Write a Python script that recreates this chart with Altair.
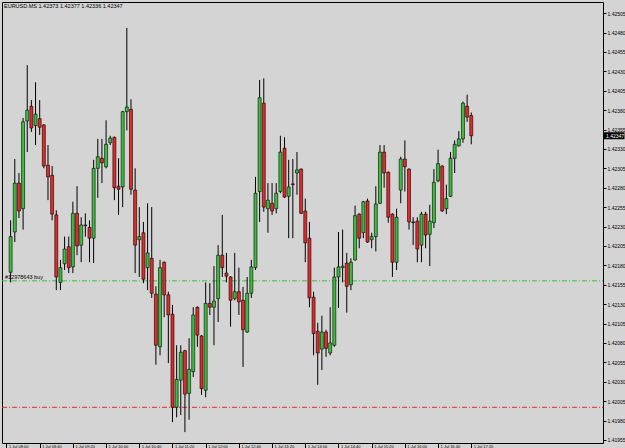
import altair as alt
import pandas as pd

symbol_title = "EURUSD.MS  1.42373 1.42377 1.42336 1.42347"

opens = [1.42171, 1.42223, 1.42286, 1.42253, 1.42366, 1.42385, 1.42360, 1.42369, 1.42361, 1.42309,
         1.42296, 1.42245, 1.42158, 1.42182, 1.42204, 1.42178, 1.42247, 1.42206, 1.42232, 1.42229,
         1.42215, 1.42305, 1.42318, 1.42307, 1.42338, 1.42345, 1.42282, 1.42281, 1.42378, 1.42381,
         1.42277, 1.42213, 1.42222, 1.42177, 1.42189, 1.42143, 1.42075, 1.42184, 1.42142, 1.42117,
         1.41997, 1.42032, 1.42070, 1.42015, 1.42043, 1.42126, 1.42089, 1.42019, 1.42131, 1.42126,
         1.42137, 1.42193, 1.42170, 1.42165, 1.42137, 1.42146, 1.42135, 1.42094, 1.42144, 1.42177,
         1.42275, 1.42389, 1.42253, 1.42260, 1.42253, 1.42275, 1.42331, 1.42269, 1.42285, 1.42299,
         1.42304, 1.42250, 1.42215, 1.42139, 1.42095, 1.42072, 1.42094, 1.42067, 1.42077, 1.42165,
         1.42177, 1.42183, 1.42155, 1.42187, 1.42246, 1.42222, 1.42263, 1.42213, 1.42217, 1.42260,
         1.42326, 1.42300, 1.42246, 1.42184, 1.42277, 1.42317, 1.42304, 1.42236, 1.42237, 1.42206,
         1.42246, 1.42220, 1.42235, 1.42289, 1.42308, 1.42253, 1.42269, 1.42318, 1.42334, 1.42343,
         1.42385, 1.42373]
highs = [1.42238, 1.42317, 1.42299, 1.42370, 1.42438, 1.42393, 1.42416, 1.42393, 1.42362, 1.42335,
         1.42308, 1.42251, 1.42187, 1.42217, 1.42217, 1.42262, 1.42282, 1.42242, 1.42247, 1.42238,
         1.42316, 1.42343, 1.42343, 1.42367, 1.42347, 1.42346, 1.42318, 1.42379, 1.42486, 1.42394,
         1.42305, 1.42255, 1.42236, 1.42260, 1.42255, 1.42153, 1.42187, 1.42185, 1.42146, 1.42129,
         1.42077, 1.42077, 1.42071, 1.42086, 1.42126, 1.42127, 1.42090, 1.42158, 1.42157, 1.42179,
         1.42206, 1.42245, 1.42196, 1.42166, 1.42196, 1.42177, 1.42152, 1.42165, 1.42187, 1.42294,
         1.42419, 1.42421, 1.42286, 1.42286, 1.42286, 1.42347, 1.42345, 1.42316, 1.42317, 1.42326,
         1.42305, 1.42266, 1.42236, 1.42146, 1.42106, 1.42115, 1.42097, 1.42126, 1.42177, 1.42223,
         1.42226, 1.42196, 1.42189, 1.42257, 1.42247, 1.42263, 1.42266, 1.42222, 1.42282, 1.42335,
         1.42335, 1.42301, 1.42247, 1.42253, 1.42320, 1.42341, 1.42305, 1.42242, 1.42242, 1.42249,
         1.42249, 1.42258, 1.42304, 1.42329, 1.42309, 1.42284, 1.42326, 1.42341, 1.42353, 1.42391,
         1.42400, 1.42377]
lows = [1.42158, 1.42210, 1.42241, 1.42226, 1.42326, 1.42352, 1.42335, 1.42348, 1.42305, 1.42264,
        1.42238, 1.42148, 1.42148, 1.42174, 1.42170, 1.42170, 1.42193, 1.42184, 1.42217, 1.42184,
        1.42183, 1.42267, 1.42286, 1.42305, 1.42335, 1.42264, 1.42245, 1.42255, 1.42354, 1.42271,
        1.42170, 1.42165, 1.42157, 1.42148, 1.42138, 1.42052, 1.42064, 1.42113, 1.42054, 1.41978,
        1.41984, 1.41987, 1.41965, 1.41981, 1.42036, 1.42075, 1.42013, 1.42010, 1.42116, 1.42077,
        1.42107, 1.42165, 1.42158, 1.42101, 1.42135, 1.42116, 1.42049, 1.42093, 1.42138, 1.42174,
        1.42236, 1.42249, 1.42222, 1.42245, 1.42247, 1.42273, 1.42267, 1.42215, 1.42215, 1.42271,
        1.42246, 1.42184, 1.42126, 1.42064, 1.42026, 1.42045, 1.42062, 1.42064, 1.42075, 1.42125,
        1.42158, 1.42119, 1.42148, 1.42186, 1.42202, 1.42215, 1.42209, 1.42202, 1.42198, 1.42259,
        1.42280, 1.42235, 1.42165, 1.42174, 1.42260, 1.42275, 1.42226, 1.42206, 1.42184, 1.42184,
        1.42202, 1.42179, 1.42228, 1.42287, 1.42249, 1.42246, 1.42268, 1.42299, 1.42333, 1.42338,
        1.42365, 1.42336]
closes = [1.42217, 1.42286, 1.42250, 1.42365, 1.42380, 1.42357, 1.42375, 1.42358, 1.42308, 1.42294,
          1.42246, 1.42165, 1.42177, 1.42201, 1.42177, 1.42247, 1.42205, 1.42232, 1.42231, 1.42215,
          1.42305, 1.42320, 1.42312, 1.42336, 1.42344, 1.42280, 1.42278, 1.42378, 1.42384, 1.42278,
          1.42206, 1.42217, 1.42162, 1.42196, 1.42144, 1.42077, 1.42177, 1.42142, 1.42116, 1.41997,
          1.42033, 1.42068, 1.42014, 1.42046, 1.42116, 1.42090, 1.42021, 1.42131, 1.42126, 1.42134,
          1.42193, 1.42177, 1.42166, 1.42135, 1.42146, 1.42133, 1.42097, 1.42144, 1.42178, 1.42273,
          1.42396, 1.42255, 1.42264, 1.42250, 1.42273, 1.42326, 1.42268, 1.42281, 1.42284, 1.42303,
          1.42247, 1.42209, 1.42138, 1.42092, 1.42067, 1.42094, 1.42073, 1.42080, 1.42165, 1.42178,
          1.42179, 1.42153, 1.42184, 1.42244, 1.42215, 1.42262, 1.42210, 1.42217, 1.42259, 1.42326,
          1.42299, 1.42242, 1.42184, 1.42242, 1.42317, 1.42307, 1.42236, 1.42235, 1.42201, 1.42246,
          1.42219, 1.42237, 1.42287, 1.42311, 1.42250, 1.42266, 1.42318, 1.42336, 1.42343, 1.42389,
          1.42371, 1.42347]
candle_idx = list(range(1, len(opens) + 1))

time_label_pos = [0, 8, 16, 24, 32, 40, 48, 56, 64, 72, 80, 88, 96, 104, 112]
time_labels = ["1 Jul 08:00", "1 Jul 08:40", "1 Jul 09:20", "1 Jul 10:00", "1 Jul 10:40",
               "1 Jul 11:20", "1 Jul 12:00", "1 Jul 12:40", "1 Jul 13:20", "1 Jul 14:00",
               "1 Jul 14:40", "1 Jul 15:20", "1 Jul 16:00", "1 Jul 16:40", "1 Jul 17:20"]
price_ticks = [1.42505, 1.42480, 1.42455, 1.42430, 1.42405, 1.42380, 1.42355, 1.42330,
               1.42305, 1.42280, 1.42255, 1.42230, 1.42205, 1.42180, 1.42155, 1.42130,
               1.42105, 1.42080, 1.42055, 1.42030, 1.42005, 1.41980, 1.41955]

order_price = 1.42160
order_label = "#12978643 buy"
stop_price = 1.41997
last_price = 1.42347
last_price_text = "1.42347"

BG = "#D4D4D4"
BULL = "#2EC12E"
BEAR = "#A81818"
FONT = "Liberation Sans"

df = pd.DataFrame({"i": candle_idx, "open": opens, "high": highs, "low": lows, "close": closes})
df["dir"] = ["up" if c >= o else "down" for o, c in zip(opens, closes)]

label_js = "[" + ",".join("'" + t + "'" for t in time_labels) + "]"

xscale = alt.Scale(domain=[0.123, 142.54], nice=False, zero=False)
xaxis = alt.Axis(values=time_label_pos, labelExpr=label_js + "[round(datum.value/8)]",
                 labelFontSize=4, labelFont=FONT, labelColor="black", labelAlign="left",
                 labelBaseline="top", labelPadding=-4, labelOffset=2, tickSize=5,
                 tickColor="black", domain=False, grid=False, title=None,
                 labelOverlap=False, labelFlush=False)
yscale = alt.Scale(domain=[1.419510, 1.425194], nice=False, zero=False)
yaxis = alt.Axis(orient="right", values=price_ticks, format=".5f", labelFontSize=5,
                 labelFont=FONT, labelColor="black", tickColor="black", tickSize=3,
                 labelPadding=1, domain=False, grid=False, title=None,
                 labelOverlap=False, labelFlush=False, labelBaseline="middle")


def xenc(field="i"):
    return alt.X(f"{field}:Q", scale=xscale, axis=xaxis)


def yenc(field):
    return alt.Y(f"{field}:Q", scale=yscale, axis=yaxis)


base = alt.Chart(df)
wicks = base.mark_rule(color="black", strokeWidth=1).encode(
    x=xenc(), y=yenc("low"), y2="high")
bodies = base.mark_bar(size=3, stroke="black", strokeWidth=0.6).encode(
    x=xenc(), y=yenc("open"), y2="close",
    color=alt.Color("dir:N", scale=alt.Scale(domain=["up", "down"], range=[BULL, BEAR]),
                    legend=None))

lines_df = pd.DataFrame({"price": [order_price, stop_price], "kind": ["buy", "stop"]})
level_lines = alt.Chart(lines_df).mark_rule(strokeWidth=1, strokeDash=[5, 2, 1, 2]).encode(
    y=yenc("price"), x=alt.value(0), x2=alt.value(601),
    color=alt.Color("kind:N", scale=alt.Scale(domain=["buy", "stop"],
                                              range=["#3CC03C", "#E82828"]), legend=None))

order_df = pd.DataFrame({"price": [order_price], "t": [order_label]})
order_text = alt.Chart(order_df).mark_text(align="left", baseline="bottom", fontSize=5.5,
                                           font=FONT, color="black", dy=-1).encode(
    x=alt.value(3), y=yenc("price"), text="t:N")

title_df = pd.DataFrame({"t": [symbol_title]})
title_text = alt.Chart(title_df).mark_text(align="left", baseline="middle", fontSize=5.5,
                                           font=FONT, color="black").encode(
    x=alt.value(2), y=alt.value(4), text="t:N")

last_df = pd.DataFrame({"price": [last_price], "t": [last_price_text]})
last_box = alt.Chart(last_df).mark_tick(orient="horizontal", size=21, thickness=7,
                                        color="black", opacity=1).encode(
    x=alt.value(612), y=yenc("price"))
last_text = alt.Chart(last_df).mark_text(align="left", baseline="middle", fontSize=5,
                                         font=FONT, color="white").encode(
    x=alt.value(604), y=yenc("price"), text="t:N")

chart = alt.layer(level_lines, wicks, bodies, order_text, title_text, last_box, last_text).properties(
    width=601, height=441,
    background=BG,
    padding={"left": 2, "top": 2, "right": 22, "bottom": 5},
    autosize=alt.AutoSizeParams(type="none"),
).configure_view(stroke="black", strokeWidth=1, fill=BG)

chart.save("out.html", embed_options={"renderer": "svg", "actions": False})
